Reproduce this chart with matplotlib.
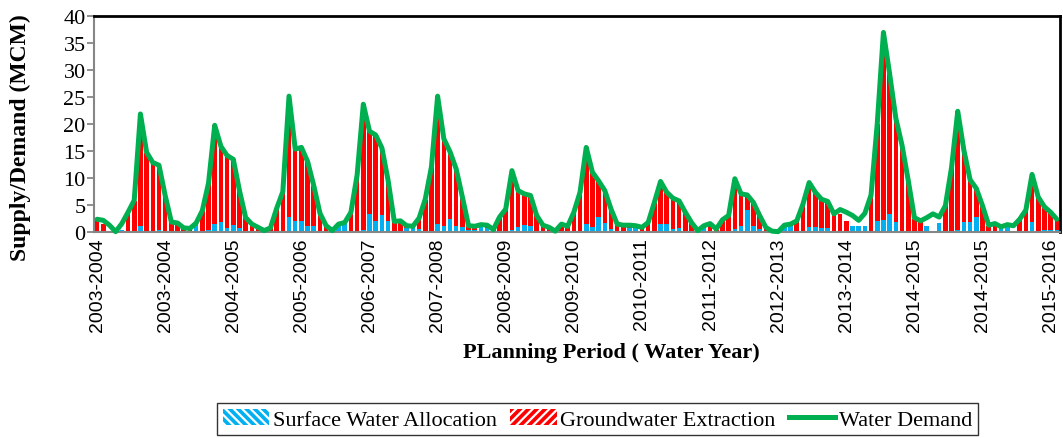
import numpy as np
import matplotlib
matplotlib.use("Agg")
import matplotlib.pyplot as plt
import matplotlib.patches as mpatches
from matplotlib.lines import Line2D

plt.rcParams['font.family'] = ['Liberation Serif', 'DejaVu Serif']
plt.rcParams['hatch.linewidth'] = 1.6

# monthly values, 13 water years (2003-2004 .. 2015-2016), MCM
demand = [
    2.3, 2.1, 1.2, 0.0, 1.5, 3.6, 5.8, 21.8, 14.7, 12.8, 12.3, 6.7,
    1.8, 1.6, 0.7, 0.6, 1.6, 3.9, 9.0, 19.7, 15.8, 14.1, 13.4, 7.6,
    2.6, 1.4, 0.8, 0.2, 0.7, 4.3, 7.4, 25.1, 15.3, 15.6, 13.0, 8.5,
    3.4, 1.1, 0.2, 1.4, 1.7, 3.6, 10.5, 23.6, 18.6, 17.9, 15.5, 9.5,
    1.9, 2.0, 1.1, 1.0, 2.5, 6.0, 12.0, 25.1, 17.2, 14.8, 11.6, 6.4,
    1.1, 1.0, 1.3, 1.2, 0.4, 2.7, 4.2, 11.3, 7.6, 7.0, 6.7, 3.0,
    1.2, 0.8, 0.1, 1.4, 1.0, 3.6, 7.3, 15.6, 11.0, 9.4, 7.6, 4.2,
    1.4, 1.2, 1.2, 1.1, 0.8, 1.7, 5.4, 9.3, 7.3, 6.2, 5.7, 3.6,
    1.7, 0.2, 1.1, 1.5, 0.5, 2.2, 3.0, 9.8, 7.0, 6.8, 5.4, 3.0,
    0.8, 0.1, 0.0, 1.2, 1.4, 2.0, 5.1, 9.1, 7.3, 6.0, 5.6, 3.3,
    4.1, 3.6, 3.0, 2.1, 3.4, 6.8, 20.0, 36.9, 29.2, 21.0, 16.0, 9.5,
    2.6, 2.0, 2.6, 3.3, 2.7, 4.8, 11.9, 22.3, 15.0, 9.6, 8.0, 4.8,
    1.2, 1.5, 0.9, 1.3, 1.1, 2.3, 4.0, 10.6, 6.4, 4.6, 3.6, 2.3,
]

surface_water = [
    0, 0, 0, 0, 0.3, 0, 0, 1.0, 0, 0, 0.3, 0,
    0, 0, 0, 0, 1.5, 0, 0.4, 1.5, 1.8, 0.7, 1.2, 0.6,
    0, 0, 0, 0, 0, 0, 0, 2.8, 1.9, 1.9, 1.1, 1.0,
    0, 0, 0, 1.1, 1.4, 0, 0, 0.3, 3.2, 1.9, 3.0, 1.9,
    0, 0, 0.6, 0.6, 0.5, 0, 0, 1.4, 1.1, 2.3, 1.1, 0.9,
    0.3, 0.3, 0.9, 0.6, 0, 0, 0, 0.4, 0.8, 1.3, 1.0, 0,
    0, 0, 0, 0, 0, 0, 0, 1.5, 0.8, 2.7, 1.6, 0.5,
    0, 0, 0.6, 0.6, 0, 0, 0, 1.4, 1.4, 0.5, 0.6, 0,
    0, 0, 0.6, 0, 0, 0, 0, 0.5, 1.1, 4.0, 1.0, 0.5,
    0, 0, 0, 1.1, 1.1, 0, 0, 0.8, 0.9, 0.6, 0.7, 0,
    0, 0, 1.1, 1.1, 1.1, 0, 2.0, 2.2, 3.3, 1.7, 0, 0,
    0, 0, 1.0, 0, 1.6, 0, 0, 0.4, 1.8, 1.7, 2.8, 0,
    0, 0, 0.8, 0.8, 0, 0, 0, 1.7, 0, 0.3, 0.4, 0.4,
]

groundwater = [
    2.1, 1.5, 0, 0, 0, 3.5, 5.7, 20.8, 14.6, 12.7, 12.0, 6.5,
    1.7, 1.4, 0.5, 0.4, 0, 3.8, 8.6, 18.2, 14.0, 13.4, 12.2, 7.0,
    2.5, 1.3, 0.6, 0.1, 0.6, 4.2, 7.3, 22.3, 13.4, 13.7, 11.9, 7.5,
    3.3, 1.0, 0, 0, 0, 3.5, 10.4, 23.3, 15.4, 16.0, 12.5, 7.6,
    1.8, 1.9, 0.5, 0.4, 2.0, 5.9, 11.9, 23.7, 16.1, 12.5, 10.5, 5.5,
    0.8, 0.7, 0.4, 0.6, 0.3, 2.6, 4.1, 10.9, 6.8, 5.7, 5.7, 3.0,
    1.1, 0.7, 0.1, 1.3, 0.9, 3.5, 7.2, 14.1, 10.2, 6.7, 6.0, 3.7,
    1.3, 1.1, 0.6, 0.5, 0.7, 1.6, 5.3, 7.9, 5.9, 5.7, 5.1, 3.5,
    1.6, 0.1, 0.5, 1.4, 0.4, 2.1, 2.9, 9.3, 5.9, 2.8, 4.4, 2.5,
    0.7, 0, 0, 0.1, 0.3, 1.9, 5.0, 8.3, 6.4, 5.4, 4.9, 3.2,
    3.3, 2.0, 0, 0, 0, 6.7, 18.0, 34.7, 25.9, 19.3, 15.9, 9.4,
    2.3, 2.0, 0, 0, 0, 4.7, 11.8, 21.9, 13.2, 7.9, 5.2, 4.7,
    1.1, 1.4, 0, 0, 0, 2.2, 3.9, 8.9, 6.3, 4.3, 3.2, 1.9,
]

tick_labels = ['2003-2004', '2003-2004', '2004-2005', '2005-2006', '2006-2007',
               '2007-2008', '2008-2009', '2009-2010', '2010-2011', '2011-2012',
               '2012-2013', '2013-2014', '2014-2015', '2014-2015', '2015-2016']

blue = '#00B0F0'
red = '#FF0000'
green = '#00B050'
grey = '#868686'

fig = plt.figure(figsize=(10.63, 4.39), dpi=100)
ax = fig.add_axes([0.0884, 0.470, 0.9087, 0.492])

x = np.arange(len(demand))
ax.bar(x, surface_water, width=0.74, color=blue, zorder=2)
ax.bar(x, groundwater, width=0.74, bottom=surface_water, color=red, zorder=2)
ax.plot(x, demand, color=green, lw=3.6, solid_joinstyle='round',
        solid_capstyle='round', clip_on=False, zorder=3)

ax.set_xlim(-0.5, len(demand) - 0.5)
ax.set_ylim(0, 40)
ax.set_yticks(np.arange(0, 41, 5))
ax.set_xticks(np.arange(0, len(demand), 11))
ax.set_xticklabels(tick_labels, rotation=90, fontsize=14,
                   family=['Liberation Sans', 'DejaVu Sans'])
ax.tick_params(axis='x', length=0, pad=4)
ax.tick_params(axis='y', length=5, width=1.3, color=grey, labelsize=16, pad=1)

for side in ['top', 'right']:
    ax.spines[side].set_color('black')
    ax.spines[side].set_linewidth(2)
for side in ['left', 'bottom']:
    ax.spines[side].set_color(grey)
    ax.spines[side].set_linewidth(1.5)

ax.set_ylabel('Supply/Demand (MCM)', fontsize=17, fontweight='bold')
ax.yaxis.set_label_coords(-0.065, 0.44)
fig.text(0.575, 0.196, 'PLanning Period ( Water Year)', fontsize=16,
         fontweight='bold', ha='center', va='center')

handles = [
    mpatches.Patch(facecolor=blue, edgecolor='white', hatch='\\\\\\\\', linewidth=0,
                   label='Surface Water Allocation'),
    mpatches.Patch(facecolor=red, edgecolor='white', hatch='////', linewidth=0,
                   label='Groundwater Extraction'),
    Line2D([0], [0], color=green, lw=3.6, label='Water Demand'),
]
leg = fig.legend(handles=handles, loc='center', bbox_to_anchor=(0.562, 0.043),
                 ncol=3, fontsize=16, frameon=True, fancybox=False,
                 edgecolor='black', handlelength=2.1, handleheight=0.75,
                 handletextpad=0.15, columnspacing=0.6, borderpad=0.25,
                 borderaxespad=0)
leg.get_frame().set_linewidth(1.0)

fig.savefig('out.png', dpi=100)
